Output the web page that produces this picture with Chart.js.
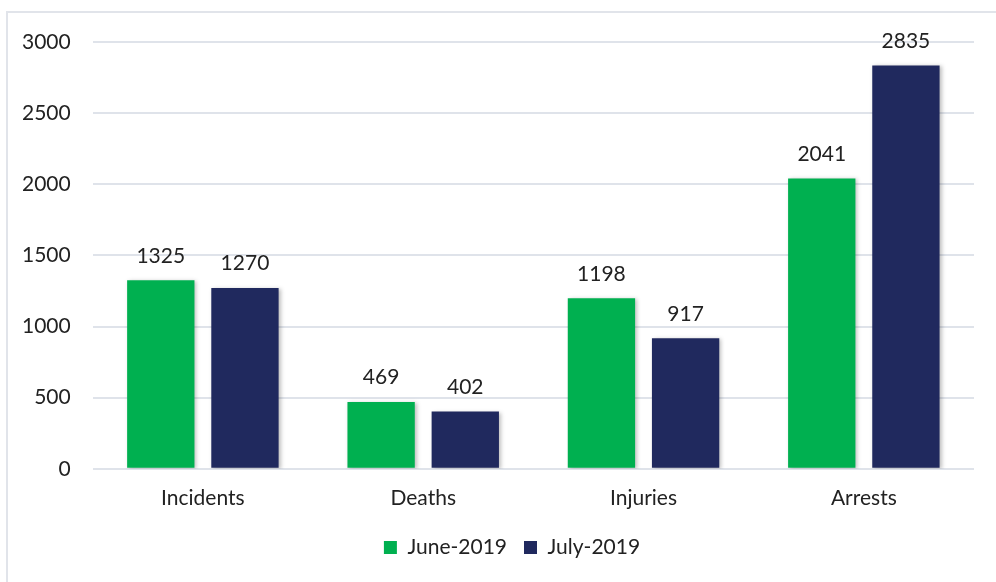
<!DOCTYPE html>
<html>
<head>
<meta charset="utf-8">
<script src="https://cdn.jsdelivr.net/npm/chart.js@4"></script>
<style>
    html, body { margin: 0; padding: 0; background: #fff; overflow: hidden; }
    #wrap { position: relative; width: 996px; height: 582px; }
    #frame {
        position: absolute; left: 6px; top: 11px; width: 1100px; height: 700px;
        border-left: 2px solid #e1e4ea; border-top: 2px solid #e1e4ea;
    }
    canvas { position: absolute; left: 0; top: 0; }
</style>
</head>
<body>
<div id="wrap">
    <div id="frame"></div>
    <canvas id="barChart" width="996" height="582"></canvas>
</div>
<script>
// データ
const categories = ["Incidents", "Deaths", "Injuries", "Arrests"];
const june2019 = [1325, 469, 1198, 2041];
const july2019 = [1270, 402, 917, 2835];
const seriesLabels = ["June-2019", "July-2019"];

const fontFamily = "Lato, 'Open Sans', sans-serif";
const textColor = "#222222";

// 棒の影
const barShadow = {
    id: "barShadow",
    beforeDatasetsDraw(chart) {
        const ctx = chart.ctx;
        ctx.save();
        ctx.shadowColor = "rgba(0,0,0,0.25)";
        ctx.shadowBlur = 4;
        ctx.shadowOffsetX = 2;
        ctx.shadowOffsetY = 1;
    },
    afterDatasetsDraw(chart) {
        chart.ctx.restore();
    },
};

// 値ラベル
const valueLabels = {
    id: "valueLabels",
    afterDatasetsDraw(chart) {
        const ctx = chart.ctx;
        ctx.save();
        ctx.font = "21px " + fontFamily;
        ctx.fillStyle = textColor;
        ctx.textAlign = "center";
        ctx.textBaseline = "bottom";
        chart.data.datasets.forEach((ds, i) => {
            chart.getDatasetMeta(i).data.forEach((bar, j) => {
                ctx.fillText(ds.data[j], bar.x, bar.y - 14);
            });
        });
        ctx.restore();
    },
};

// 凡例を少し右へ
const legendShift = {
    id: "legendShift",
    afterLayout(chart) {
        if (chart.legend) {
            chart.legend.left += 25;
            chart.legend.right += 25;
        }
    },
};

const ctx = document.getElementById("barChart").getContext("2d");
new Chart(ctx, {
    type: "bar",
    data: {
        labels: categories,
        datasets: [
            {
                label: seriesLabels[0],
                data: june2019,
                backgroundColor: "#00B050",
                categoryPercentage: 0.764,
                barPercentage: 0.8,
            },
            {
                label: seriesLabels[1],
                data: july2019,
                backgroundColor: "#20295E",
                categoryPercentage: 0.764,
                barPercentage: 0.8,
            },
        ],
    },
    options: {
        responsive: false,
        animation: false,
        layout: {
            padding: { left: 0, right: 22, top: 42, bottom: 14 },
        },
        scales: {
            x: {
                grid: { display: false },
                border: { display: false },
                ticks: {
                    color: textColor,
                    font: { family: fontFamily, size: 21 },
                    padding: 9,
                },
            },
            y: {
                min: 0,
                max: 3000,
                ticks: {
                    stepSize: 500,
                    color: textColor,
                    font: { family: fontFamily, size: 21 },
                    padding: 22,
                    callback: (value) => String(value),
                },
                grid: {
                    color: "#dfe3ea",
                    lineWidth: 2,
                    drawTicks: false,
                },
                border: { display: false },
            },
        },
        plugins: {
            legend: {
                position: "bottom",
                labels: {
                    boxWidth: 13,
                    boxHeight: 13,
                    padding: 17,
                    color: textColor,
                    font: { family: fontFamily, size: 21 },
                },
            },
            tooltip: { enabled: false },
        },
    },
    plugins: [barShadow, valueLabels, legendShift],
});
</script>
</body>
</html>
